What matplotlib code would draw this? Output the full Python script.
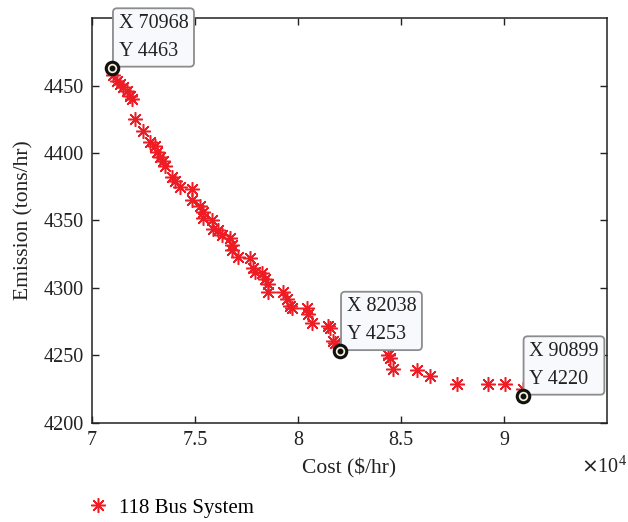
import numpy as np
import matplotlib.pyplot as plt

plt.rcParams['font.family'] = ['Liberation Serif', 'DejaVu Serif']

# Pareto front, 118 bus system
cost = [70968, 71020, 71210, 71360, 71500, 71700, 71840, 71940, 72090, 72480,
        72820, 73060, 73160, 73300, 73450, 73540, 73880, 74030, 74270, 74850,
        74850, 75240, 75390, 75390, 75830, 75870, 76120, 76310, 76700, 76800,
        76800, 77090, 77670, 77820, 77910, 78250, 78400, 78540, 78540, 79270,
        79470, 79610, 79710, 80440, 80490, 80680, 81460, 81550, 81700, 81800,
        82038, 84370, 84470, 84610, 85780, 86410, 87720, 89220, 90050, 90920,
        90899]
emission = [4463, 4458, 4453, 4451, 4449, 4446, 4442, 4440, 4425, 4416,
            4408, 4405, 4401, 4397, 4394, 4390, 4382, 4379, 4375, 4373,
            4365, 4361, 4356, 4352, 4350, 4344, 4343, 4339, 4337, 4332,
            4328, 4323, 4322, 4315, 4312, 4311, 4307, 4303, 4297, 4297,
            4292, 4287, 4285, 4285, 4281, 4274, 4272, 4270, 4261, 4259,
            4253, 4250, 4248, 4240, 4239, 4235, 4229, 4229, 4229, 4225,
            4220]

# data tips
tip_cost = [70968, 82038, 90899]
tip_emission = [4463, 4253, 4220]

scale = 1e4
red = '#ee1c25'
ink = '#222222'

fig = plt.figure(figsize=(6.28, 5.22), dpi=100)
ax = fig.add_axes([0.1465, 0.1897, 0.8201, 0.7758])

ax.plot(np.array(cost) / scale, emission, linestyle='none', marker=(8, 2, 0),
        markersize=10.5, markeredgewidth=1.1, color=red, label='118 Bus System')

tx = np.array(tip_cost) / scale
ax.plot(tx, tip_emission, linestyle='none', marker='o', markersize=9,
        markerfacecolor='#f6f1d6', markeredgecolor='#111111',
        markeredgewidth=2.2, zorder=6)
ax.plot(tx, tip_emission, linestyle='none', marker='o', markersize=3.2,
        color='#111111', zorder=7)

for c, e in zip(tip_cost, tip_emission):
    ax.annotate(f'X {c}\nY {e}', xy=(c / scale, e), xytext=(4.8, 5.0),
                textcoords='offset points', ha='left', va='bottom',
                fontsize=14.5, linespacing=1.65, color=ink, zorder=5,
                bbox=dict(boxstyle='round,pad=0.28,rounding_size=0.2',
                          fc='#f8f9fc', ec='#8c8c8c', lw=1.3))

ax.set_xlim(7, 9.5)
ax.set_ylim(4200, 4500)
ax.set_xticks([7, 7.5, 8, 8.5, 9])
ax.set_xticklabels(['7', '7.5', '8', '8.5', '9'])
ax.set_yticks([4200, 4250, 4300, 4350, 4400, 4450])
ax.tick_params(direction='in', length=5, width=1, labelsize=14.5,
               top=True, right=True, colors=ink, pad=6)
for s in ax.spines.values():
    s.set_linewidth(1.1)
    s.set_color(ink)

ax.set_xlabel('Cost ($/hr)', fontsize=15.5, color=ink, labelpad=6)
ax.set_ylabel('Emission (tons/hr)', fontsize=15.5, color=ink, labelpad=7)
fig.text(0.998, 0.105, r'$\times$10$^{\mathregular{4}}$', fontsize=14.5,
         ha='right', va='center', color=ink)

ax.legend(loc='center left', bbox_to_anchor=(0.107, 0.027),
          bbox_transform=fig.transFigure, frameon=False, fontsize=15,
          handletextpad=0.4, handlelength=1.2)

fig.savefig('out.png', dpi=100)
